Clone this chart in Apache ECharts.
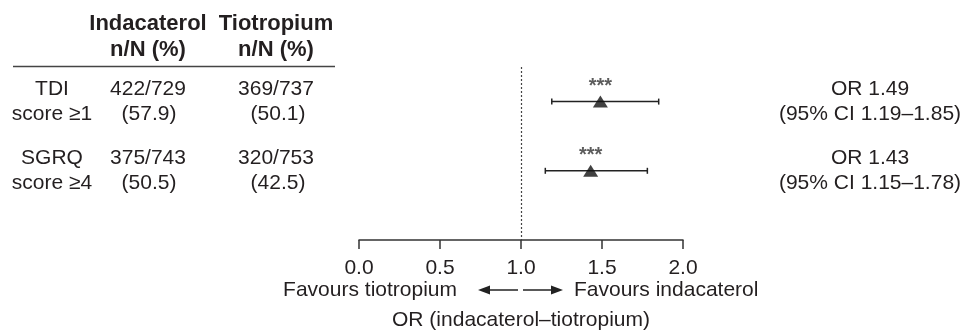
<!DOCTYPE html>
<html>
<head>
<meta charset="utf-8">
<script src="https://cdn.jsdelivr.net/npm/echarts@6/dist/echarts.min.js"></script>
<style>
html,body{margin:0;padding:0;background:#fff;}
#chart{width:965px;height:336px;}
</style>
</head>
<body>
<div id="chart"></div>
<script>
// ---- data ----
const outcomeLine1 = ['TDI', 'SGRQ'];
const outcomeLine2 = ['score ≥1', 'score ≥4'];
const indacaterolN = ['422/729', '375/743'];
const indacaterolPct = ['(57.9)', '(50.5)'];
const tiotropiumN = ['369/737', '320/753'];
const tiotropiumPct = ['(50.1)', '(42.5)'];
const orValues = [1.49, 1.43];
const ciLow = [1.19, 1.15];
const ciHigh = [1.85, 1.78];
const significance = ['***', '***'];
const rowPositions = [1, 3];
const xTickValues = [0, 0.5, 1, 1.5, 2];
const headerCols = [['Indacaterol', 'n/N (%)'], ['Tiotropium', 'n/N (%)']];

const FONT = '"Liberation Sans", Arial, Helvetica, sans-serif';
const TXT = '#231f20';
const BODY = 21;

const chart = echarts.init(document.getElementById('chart'), null, {renderer: 'canvas'});

const option = {
  backgroundColor: '#ffffff',
  animation: false,
  grid: {left: 359, right: 282, top: 67, bottom: 94, containLabel: false},
  xAxis: {
    type: 'value', min: 0, max: 2, interval: 0.5, position: 'bottom',
    splitLine: {show: false},
    axisLine: {show: true, onZero: false, lineStyle: {color: '#333', width: 1.5}},
    axisTick: {show: true, length: 9, lineStyle: {color: '#333', width: 1.5}},
    axisLabel: {
      margin: 18, fontFamily: FONT, fontSize: BODY, color: TXT,
      formatter: v => xTickValues.indexOf(v) >= 0 ? v.toFixed(1) : ''
    },
    name: 'OR (indacaterol–tiotropium)',
    nameLocation: 'middle', nameGap: 70,
    nameTextStyle: {fontFamily: FONT, fontSize: BODY, color: TXT}
  },
  yAxis: {
    type: 'value', min: 0, max: 5, inverse: true, show: false
  },
  series: [
    {
      type: 'custom',
      renderItem: function (params, api) {
        const lo = api.coord([api.value(0), api.value(2)]);
        const hi = api.coord([api.value(1), api.value(2)]);
        const cap = 3;
        const style = {stroke: '#222', lineWidth: 1.5};
        return {
          type: 'group',
          children: [
            {type: 'line', shape: {x1: lo[0], y1: lo[1], x2: hi[0], y2: hi[1]}, style: style},
            {type: 'line', shape: {x1: lo[0], y1: lo[1] - cap, x2: lo[0], y2: lo[1] + cap}, style: style},
            {type: 'line', shape: {x1: hi[0], y1: hi[1] - cap, x2: hi[0], y2: hi[1] + cap}, style: style}
          ]
        };
      },
      data: ciLow.map((l, i) => [l, ciHigh[i], rowPositions[i]]),
      z: 2
    },
    {
      type: 'scatter',
      symbol: 'triangle',
      symbolSize: [15, 12],
      itemStyle: {color: '#111'},
      data: orValues.map((v, i) => [v, rowPositions[i]]),
      label: {
        show: true, position: 'top', distance: -1,
        formatter: p => significance[p.dataIndex],
        fontFamily: FONT, fontSize: 20, fontWeight: 'bold', color: '#333'
      },
      markLine: {
        silent: true, symbol: 'none',
        label: {show: false},
        lineStyle: {type: [2, 2], color: '#444', width: 1.2},
        data: [{xAxis: 1}]
      },
      z: 3
    }
  ]
};
chart.setOption(option);

// ---- table text & annotations ----
const px = v => chart.convertToPixel({xAxisIndex: 0}, v);
const py = v => chart.convertToPixel({yAxisIndex: 0}, v);
const g = [];
function txt(x, y, s, opt) {
  g.push({
    type: 'text', x: x, y: y, silent: true,
    style: Object.assign({text: s, fill: TXT, font: BODY + 'px ' + FONT,
      textAlign: 'center', textVerticalAlign: 'middle'}, opt || {})
  });
}
const colX = [52, 148, 276];
const rightX = 870;
// header
headerCols.forEach((h, i) => {
  txt(colX[i + 1], 23.5, h[0], {font: 'bold 22px ' + FONT});
  txt(colX[i + 1], 50, h[1], {font: 'bold 22px ' + FONT});
});
g.push({type: 'line', silent: true, shape: {x1: 13, y1: 66.5, x2: 335, y2: 66.5},
  style: {stroke: '#444', lineWidth: 1.5}});
// rows
rowPositions.forEach((r, i) => {
  const yc = py(r);
  txt(colX[0], yc - 12.5, outcomeLine1[i]);
  txt(colX[0], yc + 12.5, outcomeLine2[i]);
  txt(colX[1], yc - 12.5, indacaterolN[i]);
  txt(colX[1] + 1, yc + 12.5, indacaterolPct[i]);
  txt(colX[2], yc - 12.5, tiotropiumN[i]);
  txt(colX[2] + 2, yc + 12.5, tiotropiumPct[i]);
  txt(rightX, yc - 12.5, 'OR ' + orValues[i].toFixed(2));
  txt(rightX, yc + 12.5, '(95% CI ' + ciLow[i].toFixed(2) + '–' + ciHigh[i].toFixed(2) + ')');
});
// favours arrows
const x1 = px(1);
const ay = 290;
txt(x1 - 64, ay, 'Favours tiotropium', {textAlign: 'right'});
txt(x1 + 53, ay, 'Favours indacaterol', {textAlign: 'left'});
function arrow(xs, xe) {
  const dir = xe > xs ? 1 : -1;
  g.push({type: 'line', silent: true, shape: {x1: xs, y1: ay, x2: xe - dir * 8, y2: ay},
    style: {stroke: '#222', lineWidth: 1.5}});
  g.push({type: 'polygon', silent: true,
    shape: {points: [[xe, ay], [xe - dir * 12, ay - 4.5], [xe - dir * 12, ay + 4.5]]},
    style: {fill: '#222'}});
}
arrow(x1 - 3, x1 - 43);
arrow(x1 + 2, x1 + 42);
chart.setOption({graphic: g});
</script>
</body>
</html>
